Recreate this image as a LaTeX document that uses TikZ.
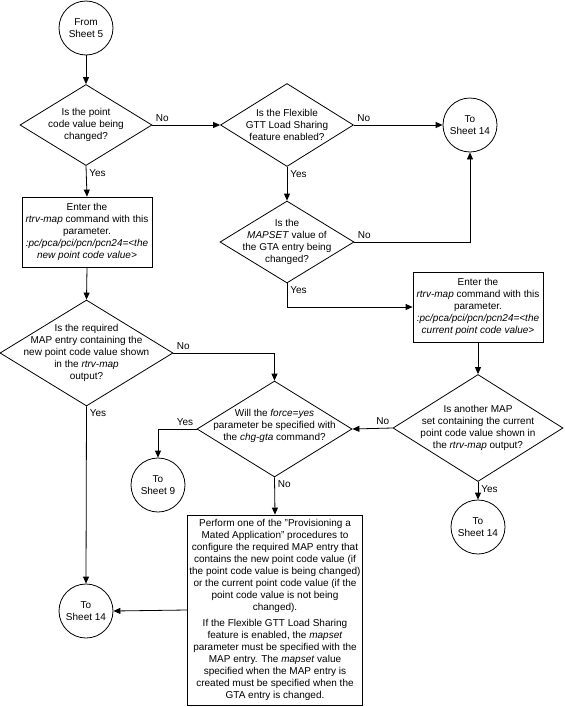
\documentclass[tikz,border=0pt]{standalone}
\usepackage{fontspec}
\setmainfont{Liberation Sans}
\usepackage{tikz}
\usetikzlibrary{arrows.meta,shapes.geometric}

\begin{document}
\begin{tikzpicture}[x=1pt, y=-1pt,
    every node/.style={font=\fontsize{10}{12}\selectfont},
    term/.style={draw, circle, minimum size=54pt, inner sep=0pt, align=center},
    dec/.style={draw, diamond, inner sep=0pt},
    txt/.style={align=center, inner sep=0pt},
    box/.style={draw, rectangle, align=center, inner sep=2pt},
    arr/.style={-{Triangle[length=7pt,width=6pt]}},
    lbl/.style={inner sep=3pt},
    line width=0.8pt]
    \useasboundingbox (0,0) rectangle (565,707);

    % Left column
    \node[term] (s5) at (86,28) {From\\Sheet 5};
    \node[dec, minimum width=132pt, minimum height=81pt] (q1) at (86,125) {};
    \node[txt] (q1t) at (q1) {Is the point\\code value being\\changed?};
    \node[box, minimum width=130pt, minimum height=70pt] (b1) at (87,232)
        {Enter the\\\textit{rtrv-map} command with this\\parameter.\\\textit{:pc/pca/pci/pcn/pcn24=<the}\\\textit{new point code value>}};
    \node[dec, minimum width=173pt, minimum height=106pt] (q4) at (86.5,353) {};
    \node[txt] (q4t) at (q4) {Is the required\\MAP entry containing the\\new point code value shown\\in the \textit{rtrv-map}\\output?};
    \node[term] (t14c) at (86,611) {To\\Sheet 14};

    % Middle column
    \node[dec, minimum width=133pt, minimum height=83pt] (q2) at (287,125) {};
    \node[txt] (q2t) at (q2) {Is the Flexible\\GTT Load Sharing\\feature enabled?};
    \node[dec, minimum width=134pt, minimum height=82pt] (q3) at (287,242) {};
    \node[txt] (q3t) at (q3) {Is the\\\textit{MAPSET} value of\\the GTA entry being\\changed?};
    \node[dec, minimum width=155pt, minimum height=96pt] (q6) at (274.5,429) {};
    \node[txt] (q6t) at (274.5,426) {Will the \textit{force=yes}\\parameter be specified with\\the \textit{chg-gta} command?};
    \node[term] (t9) at (158,485) {To\\Sheet 9};
    \node[box, minimum width=174pt, minimum height=190pt] (b3) at (275,610)
        {Perform one of the "Provisioning a\\Mated Application" procedures to\\configure the required MAP entry that\\contains the new point code value (if\\the point code value is being changed)\\or the current point code value (if the\\point code value is not being\\changed).\\[4pt]
         If the Flexible GTT Load Sharing\\feature is enabled, the \textit{mapset}\\parameter must be specified with the\\MAP entry. The \textit{mapset} value\\specified when the MAP entry is\\created must be specified when the\\GTA entry is changed.};

    % Right column
    \node[term] (t14a) at (470,125) {To\\Sheet 14};
    \node[box, minimum width=130pt, minimum height=70pt] (b2) at (478,307)
        {Enter the\\\textit{rtrv-map} command with this\\parameter.\\\textit{:pc/pca/pci/pcn/pcn24=<the}\\\textit{current point code value>}};
    \node[dec, minimum width=170pt, minimum height=107pt] (q5) at (478,428) {};
    \node[txt] (q5t) at (q5) {Is another MAP\\set containing the current\\point code value shown in\\the \textit{rtrv-map} output?};
    \node[term] (t14b) at (478,527) {To\\Sheet 14};

    % Connectors
    \draw[arr] (s5) -- (q1.north);
    \draw[arr] (q1.east) -- node[lbl, pos=0, anchor=south west] {No} (q2.west);
    \draw[arr] (q1.south) -- node[lbl, pos=0, anchor=north west] {Yes} (b1.north);
    \draw[arr] (q2.east) -- node[lbl, pos=0, anchor=south west] {No} (t14a.west);
    \draw[arr] (q2.south) -- node[lbl, pos=0, anchor=north west] {Yes} (q3.north);
    \draw[arr] (q3.east) -| node[lbl, pos=0, anchor=south west] {No} (t14a.south);
    \draw[arr] (q3.south) |- node[lbl, pos=0, anchor=north west] {Yes} (b2.west);
    \draw[arr] (b1.south) -- (q4.north);
    \draw[arr] (q4.east) -| node[lbl, pos=0, anchor=south west] {No} (q6.north);
    \draw[arr] (q4.south) -- node[lbl, pos=0, anchor=north west] {Yes} (t14c.north);
    \draw[arr] (b2.south) -- (q5.north);
    \draw[arr] (q5.west) -- node[lbl, pos=0, anchor=south east] {No} (q6.east);
    \draw[arr] (q5.south) -- node[lbl, pos=0, anchor=north west] {Yes} (t14b.north);
    \draw[arr] (q6.west) -| node[lbl, pos=0, anchor=south east] {Yes} (t9.north);
    \draw[arr] (q6.south) -- node[lbl, pos=0, anchor=north west] {No} (b3.north);
    \draw[arr] (b3.west) -- (t14c.east);
\end{tikzpicture}
\end{document}
